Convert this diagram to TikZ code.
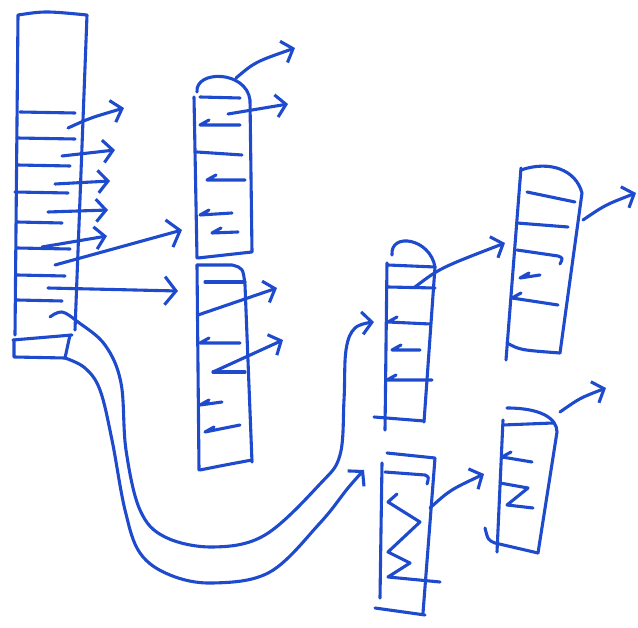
\documentclass[tikz,border=0pt]{standalone}
\usetikzlibrary{arrows.meta}
\definecolor{ink}{RGB}{30,75,205}
\tikzset{
  pen/.style={draw=ink, line width=2.2pt, line cap=round, line join=round},
  link/.style={pen, -{Straight Barb[length=7pt,width=16pt]}},
  longlink/.style={pen, -{Straight Barb[length=8pt,width=20pt]}},
}
% rung with a small back tick at its left end
\newcommand\backrung[2]{\draw[pen] (#1) +(9,-5) -- (#1) -- (#2);}
\begin{document}
\begin{tikzpicture}[x=0.025cm, y=-0.025cm]
\useasboundingbox (0,0) rectangle (638,628);

% long column on the left
\draw[pen] (15,335) -- (18,15) .. controls (45,11) .. (87,15) -- (75,330);
\draw[pen] (13,340) -- (72,335);
\draw[pen] (14,340) -- (14,357) -- (65,358) -- (70,335);
\foreach \y/\a/\b in {112/20/75, 138/17/75, 165/17/70, 192/15/68,
                      222/17/62, 248/17/70, 275/17/65, 300/17/62}
  \draw[pen] (\a,\y) -- (\b,\y+1);

% pointers out of the long column
\draw[link] (68,128) .. controls (90,118) .. (124,108);
\draw[link] (62,156) -- (115,150);
\draw[link] (55,184) -- (110,181);
\draw[link] (48,212) -- (108,210);
\draw[link] (42,247) -- (107,236);
\draw[longlink] (55,265) -- (182,230);
\draw[longlink] (48,288) -- (178,291);

% second column
\draw[pen] (197,258) -- (194,97);
\draw[pen] (197,92) .. controls (195,70) and (246,70) .. (250,100) -- (252,252) -- (198,258);
\draw[pen] (200,97) -- (240,98);
\backrung{200,125}{240,125}
\draw[pen] (197,152) -- (242,155);
\backrung{207,180}{245,180}
\backrung{200,215}{232,213}
\backrung{212,233}{238,232}
\draw[link] (236,78) .. controls (255,62) .. (295,48);
\draw[link] (228,114) -- (288,104);

% third column
\draw[pen] (197,265) -- (199,470);
\draw[pen] (197,265) -- (232,265) .. controls (243,268) .. (245,285) -- (252,462);
\draw[pen] (200,470) .. controls (225,465) .. (252,460);
\draw[pen] (205,282) -- (245,282);
\backrung{200,343}{240,343}
\draw[pen] (213,372) -- (245,372);
\backrung{200,405}{222,402}
\backrung{205,432}{240,425}
\draw[link] (198,315) -- (277,288);
\draw[link] (213,372) -- (283,340);

% fourth column
\draw[pen] (387,263) -- (385,430);
\draw[pen] (392,255) .. controls (390,232) and (430,238) .. (435,267) -- (424,422);
\draw[pen] (374,417) -- (424,421);
\draw[pen] (388,265) -- (435,267);
\draw[pen] (388,287) -- (435,288);
\backrung{388,322}{430,324}
\backrung{392,350}{420,350}
\backrung{387,380}{432,380}
\draw[link] (415,287) .. controls (440,268) .. (505,243);

% fifth column
\draw[pen] (521,168) -- (506,360);
\draw[pen] (521,170) .. controls (550,160) and (576,170) .. (582,193) -- (560,353);
\draw[pen] (507,343) .. controls (520,350) .. (560,353);
\draw[pen] (527,192) -- (575,202);
\draw[pen] (517,223) -- (568,227);
\draw[pen] (517,250) -- (558,256) .. controls (563,258) .. (560,264);
\backrung{520,278}{540,275}
\backrung{512,298}{558,305}
\draw[link] (583,220) .. controls (605,205) .. (636,193);

% sixth column
\draw[pen] (382,463) -- (380,598);
\draw[pen] (387,453) -- (435,458) -- (423,613);
\draw[pen] (375,608) -- (425,615);
\draw[pen] (385,472) -- (425,475) .. controls (429,477) .. (427,484);
\draw[pen] (397,494) -- (388,502) -- (420,522) -- (388,552) -- (410,563) -- (388,577) -- (440,582);
\draw[link] (430,508) .. controls (450,490) .. (484,474);

% seventh column
\draw[pen] (503,420) -- (497,552);
\draw[pen] (507,408) .. controls (540,408) and (557,418) .. (557,432) -- (538,553);
\draw[pen] (485,528) .. controls (488,540) .. (495,543) -- (538,553);
\draw[pen] (503,425) -- (553,423);
\backrung{502,457}{532,462}
\draw[pen] (500,483) -- (528,488) -- (507,505) -- (533,508);
\draw[link] (560,412) .. controls (580,398) .. (606,388);

% two long pointers out of the bottom of the long column
\draw[link] plot[smooth, tension=0.6] coordinates {(50,317) (62,312) (78,322) (105,345)
  (121,383) (126,450) (140,510) (165,537) (213,547) (265,535) (320,484) (340,455)
  (344,400) (346,350) (355,328) (374,322)};
\draw[link] plot[smooth, tension=0.6] coordinates {(65,358) (85,368) (100,390) (112,440)
  (125,510) (140,553) (170,575) (213,583) (270,572) (320,523) (348,488) (364,470)};
\end{tikzpicture}
\end{document}
